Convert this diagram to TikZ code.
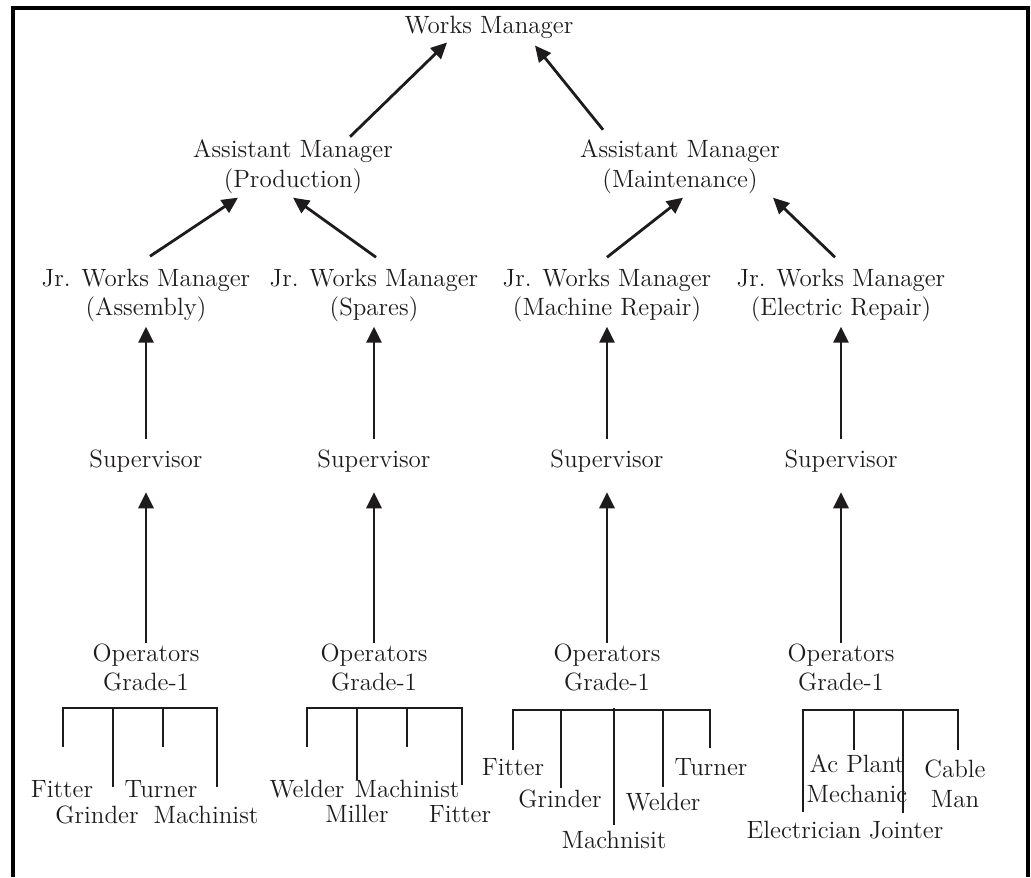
\documentclass[tikz,border=0pt]{standalone}
\usepackage{xcolor}
\usepackage{tikz}
\usetikzlibrary{arrows.meta}
\definecolor{ink}{RGB}{30,27,28}
\tikzset{
    post/.style={align=center, inner sep=0pt, anchor=base, text=ink, font=\fontsize{12.5}{14.5}\selectfont},
    worker/.style={post, font=\fontsize{12.5}{15}\selectfont},
    arrow/.style={-{Triangle[length=8pt, width=7.5pt]}, line width=1.4pt, draw=ink},
    bar/.style={line width=1.4pt, draw=ink},
    frame/.style={line width=1.6pt, draw=black}
}
\begin{document}
\begin{tikzpicture}[x=0.5pt, y=-0.5pt]
    \useasboundingbox (0,0) rectangle (1031,877);
    \draw[frame] (13,877) -- (13,8) -- (1028,8) -- (1028,877);

    % managers (base = last line)
    \node (wm) [post] at (489,34) {Works Manager};
    \node (ap) [post] at (293,187) {Assistant Manager\\(Production)};
    \node (am) [post] at (680,187) {Assistant Manager\\(Maintenance)};
    \node (ja) [post] at (146,315) {Jr. Works Manager\\(Assembly)};
    \node (js) [post] at (374,315) {Jr. Works Manager\\(Spares)};
    \node (jm) [post] at (607,315) {Jr. Works Manager\\(Machine Repair)};
    \node (je) [post] at (841,315) {Jr. Works Manager\\(Electric Repair)};

    % supervisors and operators
    \node (s1) [post] at (146,467) {Supervisor};
    \node (s2) [post] at (374,467) {Supervisor};
    \node (s3) [post] at (607,467) {Supervisor};
    \node (s4) [post] at (841,467) {Supervisor};
    \node (o1) [post] at (146,690) {Operators\\Grade-1};
    \node (o2) [post] at (374,690) {Operators\\Grade-1};
    \node (o3) [post] at (607,690) {Operators\\Grade-1};
    \node (o4) [post] at (841,690) {Operators\\Grade-1};

    \draw[arrow] ([shift={(57,-3)}]ap.north) -- ([shift={(-42,3)}]wm.south);
    \draw[arrow] ([shift={(-77,-10)}]am.north) -- ([shift={(46,6)}]wm.south);
    \draw[arrow] ([shift={(4,-12)}]ja.north) -- ([shift={(-55,4)}]ap.south);
    \draw[arrow] ([shift={(2,-11)}]js.north) -- ([shift={(0,4)}]ap.south);
    \draw[arrow] ([shift={(0,-11)}]jm.north) -- ([shift={(3,4)}]am.south);
    \draw[arrow] ([shift={(-6,-11)}]je.north) -- ([shift={(93,4)}]am.south);

    \draw[arrow] ([shift={(0,-10)}]s1.north) -- ([shift={(0,5)}]ja.south);
    \draw[arrow] ([shift={(0,-10)}]s2.north) -- ([shift={(0,5)}]js.south);
    \draw[arrow] ([shift={(0,-10)}]s3.north) -- ([shift={(0,5)}]jm.south);
    \draw[arrow] ([shift={(0,-10)}]s4.north) -- ([shift={(0,5)}]je.south);
    \draw[arrow] (o1.north) -- ([shift={(0,20)}]s1.south);
    \draw[arrow] (o2.north) -- ([shift={(0,20)}]s2.south);
    \draw[arrow] (o3.north) -- ([shift={(0,20)}]s3.south);
    \draw[arrow] (o4.north) -- ([shift={(0,20)}]s4.south);

    % assembly workers
    \draw[bar] (63,747) -- (63,708) -- (217,708) -- (217,787);
    \draw[bar] (113,708) -- (113,787);
    \draw[bar] (163,708) -- (163,747);
    \node (w1a) [worker] at (62,797) {Fitter};
    \node (w1b) [worker] at (97,823) {Grinder};
    \node (w1c) [worker] at (161,797) {Turner};
    \node (w1d) [worker] at (206,823) {Machinist};

    % spares workers
    \draw[bar] (307,747) -- (307,708) -- (462,708) -- (462,785);
    \draw[bar] (357,708) -- (357,780);
    \draw[bar] (407,708) -- (407,747);
    \node (w2a) [worker] at (307,797) {Welder};
    \node (w2b) [worker] at (357,822) {Miller};
    \node (w2c) [worker] at (407,797) {Machinist};
    \node (w2d) [worker] at (460,822) {Fitter};

    % machine repair workers
    \draw[bar] (513,750) -- (513,710) -- (710,710) -- (710,748);
    \draw[bar] (561,710) -- (561,788);
    \draw[bar] (614,708) -- (614,825);
    \draw[bar] (663,710) -- (663,787);
    \node (w3a) [worker] at (513,775) {Fitter};
    \node (w3b) [worker] at (560,807) {Grinder};
    \node (w3c) [worker] at (614,848) {Machnisit};
    \node (w3d) [worker] at (663,810) {Welder};
    \node (w3e) [worker] at (711,775) {Turner};

    % electric repair workers
    \draw[bar] (803,812) -- (803,710) -- (958,710) -- (958,750);
    \draw[bar] (854,710) -- (854,750);
    \draw[bar] (903,710) -- (903,813);
    \node (w4a) [worker] at (804,838) {Electrician};
    \node (w4b) [worker] at (857,802) {Ac Plant\\Mechanic};
    \node (w4c) [worker] at (906,838) {Jointer};
    \node (w4d) [worker] at (955,807) {Cable\\Man};
\end{tikzpicture}
\end{document}
